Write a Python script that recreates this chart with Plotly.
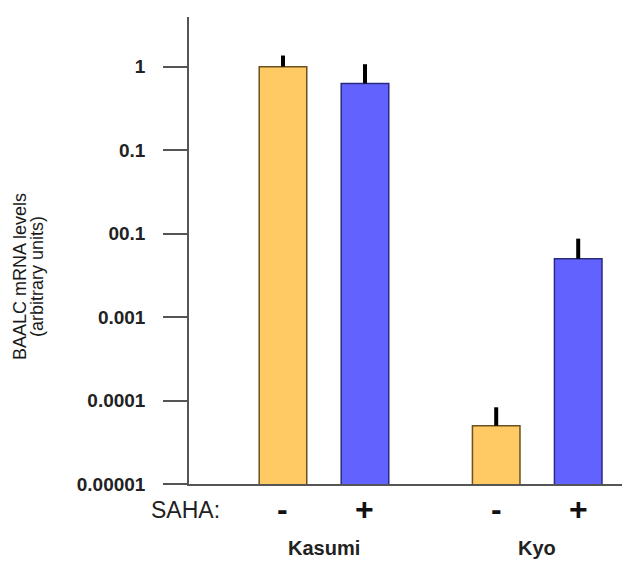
import plotly.graph_objects as go

# ---- data ----
cell_lines = ["Kasumi", "Kyo"]
saha_labels = ["-", "+"]
values_minus = [1.0, 0.00005]        # SAHA -
values_plus = [0.63, 0.005]          # SAHA +
err_upper_minus = [1.36, 0.000083]   # top of error bar, SAHA -
err_upper_plus = [1.07, 0.0087]      # top of error bar, SAHA +
ytick_vals = [1e-5, 1e-4, 1e-3, 1e-2, 1e-1, 1]
ytick_text = ["0.00001", "0.0001", "0.001", "00.1", "0.1", "1"]
y_title_lines = ["BAALC mRNA levels", "(arbitrary units)"]
saha_title = "SAHA:"

# ---- layout helpers ----
group_gap = 2.6
offset = 0.5
centers = [0.5 + i * group_gap for i in range(len(cell_lines))]
x_minus = [c - offset for c in centers]
x_plus = [c + offset for c in centers]

ORANGE = "#FFC964"
BLUE = "#6262FF"
AXIS = "#555555"
TICKFONT = dict(family="Liberation Sans, Arial", size=19, color="#222222", weight="bold")

fig = go.Figure()
fig.add_trace(go.Bar(
    x=x_minus, y=values_minus, width=0.58,
    marker=dict(color=ORANGE, line=dict(color="#6b5020", width=1.5)),
    error_y=dict(type="data", symmetric=False,
                 array=[u - v for u, v in zip(err_upper_minus, values_minus)],
                 arrayminus=[0] * len(values_minus),
                 thickness=4, width=0, color="black"),
    showlegend=False, hoverinfo="skip"))
fig.add_trace(go.Bar(
    x=x_plus, y=values_plus, width=0.58,
    marker=dict(color=BLUE, line=dict(color="#2a2a80", width=1.5)),
    error_y=dict(type="data", symmetric=False,
                 array=[u - v for u, v in zip(err_upper_plus, values_plus)],
                 arrayminus=[0] * len(values_plus),
                 thickness=4, width=0, color="black"),
    showlegend=False, hoverinfo="skip"))

# plot area geometry (px)
L, T, R, B = 189, 17, 0, 77
W, H = 622, 561
pw, ph = W - L - R, H - T - B

def px_to_paper_x(px):
    return (px - L) / pw

def px_to_paper_y(py):
    return (H - B - py) / ph

annotations = []
# SAHA label
annotations.append(dict(text=saha_title, xref="paper", yref="paper",
                        x=px_to_paper_x(185), y=px_to_paper_y(510),
                        xanchor="center", yanchor="middle", showarrow=False,
                        font=dict(family="Liberation Sans, Arial", size=23, color="#222222")))
for xs, lab in ((x_minus, saha_labels[0]), (x_plus, saha_labels[1])):
    for x in xs:
        annotations.append(dict(text=lab, xref="x", yref="paper",
                                x=x, y=px_to_paper_y(509),
                                xanchor="center", yanchor="middle", showarrow=False,
                                font=dict(family="Liberation Sans, Arial", size=32,
                                          color="#111111", weight="bold")))
for c, name in zip(centers, cell_lines):
    annotations.append(dict(text=name, xref="x", yref="paper",
                            x=c, y=px_to_paper_y(548),
                            xanchor="center", yanchor="middle", showarrow=False,
                            borderpad=0,
                            font=dict(family="Liberation Sans, Arial", size=20,
                                      color="#222222", weight="bold")))
# y-axis title (two rotated lines)
for xp, line in zip((20, 37), y_title_lines):
    annotations.append(dict(text=line, xref="paper", yref="paper",
                            x=px_to_paper_x(xp), y=px_to_paper_y(277),
                            xanchor="center", yanchor="middle", textangle=-90,
                            showarrow=False,
                            font=dict(family="Liberation Sans, Arial", size=18, color="#1a1a1a")))

fig.update_layout(
    width=W, height=H,
    margin=dict(l=L, r=R, t=T, b=B, pad=0),
    paper_bgcolor="white", plot_bgcolor="white",
    barmode="overlay",
    xaxis=dict(range=[-1.146, 4.134], showgrid=False, zeroline=False,
               showline=True, linecolor=AXIS, linewidth=1.5,
               showticklabels=False, ticks=""),
    yaxis=dict(type="log", range=[-5, 0.595], showgrid=False, zeroline=False,
               showline=True, linecolor=AXIS, linewidth=1.5,
               ticks="outside", ticklen=24, tickwidth=1.5, tickcolor=AXIS,
               tickvals=ytick_vals, ticktext=ytick_text,
               tickfont=TICKFONT, ticklabelstandoff=14),
    annotations=annotations,
)

fig.write_html("out.html", config={"displayModeBar": False},
               post_script="document.body.style.margin='0';document.body.style.padding='0';")
